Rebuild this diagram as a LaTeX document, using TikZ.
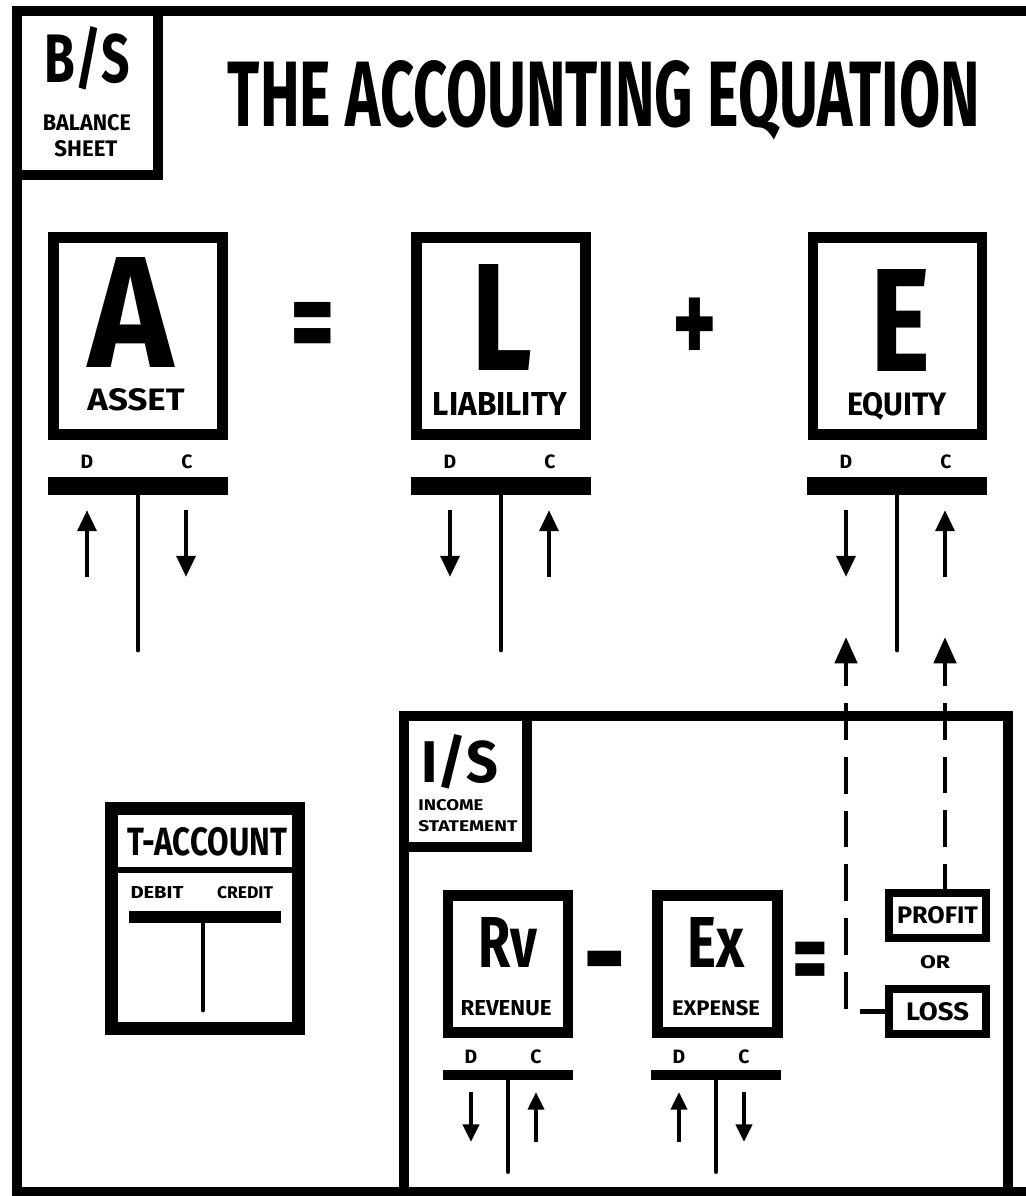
\documentclass[tikz,border=0pt]{standalone}
\usepackage{fontspec}
\setmainfont{Fira Sans}
\usepackage{graphicx}
\usetikzlibrary{arrows.meta, positioning}
\newlength\pxunit
\setlength\pxunit{0.02cm}
\newcommand{\fitbox}[3]{\resizebox{#1\pxunit}{#2\pxunit}{\bfseries #3}}

\begin{document}
\begin{tikzpicture}[x=0.02cm, y=-0.02cm,
    frame/.style={line width=5.8pt},
    bigbox/.style={draw, line width=6.2pt, minimum width=3.38cm, minimum height=3.94cm, inner sep=0pt},
    smallbox/.style={draw, line width=6.2pt, minimum width=2.4cm, minimum height=2.74cm, inner sep=0pt},
    tagbox/.style={draw, line width=4.5pt, minimum width=1.94cm, minimum height=0.9cm, inner sep=0pt},
    txt/.style={anchor=base, inner sep=0pt},
    dclabel/.style={anchor=base, inner sep=0pt, font=\bfseries\fontsize{11}{11}\selectfont},
    tbar/.style={line width=10.2pt},
    tstem/.style={line width=2.8pt, line cap=round},
    tarrow/.style={line width=2.6pt, -{Triangle[length=12pt, width=10.5pt]}},
    sbar/.style={line width=5.7pt},
    sstem/.style={line width=2.3pt, line cap=round},
    sarrow/.style={line width=2.3pt, -{Triangle[length=10pt, width=9pt]}},
    dashline/.style={line width=2.8pt, dash pattern=on 21pt off 9.6pt, dash phase=6.8pt,
        -{Triangle[length=15pt, width=12.5pt]}}]

    \useasboundingbox (0,0) rectangle (1025,1196);

    % 1. FRAMES
    \draw[frame] (17,11) rectangle (1070,1192);
    \draw[frame] (17,175) -| (158,11);
    \draw[frame] (404,716) rectangle (1008,1192);
    \draw[frame] (404,847) -| (527,716);

    \node[txt] (bstag) at (87,83) {\fitbox{85}{56}{B/S}};
    \node[txt] (bsword1) at (87,131) {\fitbox{88}{16}{BALANCE}};
    \node[txt] (bsword2) at (86,157) {\fitbox{63}{16}{SHEET}};
    \node[txt] (title) at (604,127) {\fitbox{752}{66}{THE ACCOUNTING EQUATION}};

    % 2. BALANCE SHEET EQUATION
    \node[bigbox] (asset) at (138,336) {};
    \node[bigbox] (liab) at (501,336) {};
    \node[bigbox] (equity) at (897.5,336) {};

    \node[txt] (assetA) at (131,367) {\fitbox{85}{110}{A}};
    \node[txt] (liabL) at (502,370) {\fitbox{61}{106}{L}};
    \node[txt] (equityE) at (900,371) {\fitbox{60}{102}{E}};
    \node[txt] (assetW) at (136,410) {\fitbox{97}{22}{ASSET}};
    \node[txt] (liabW) at (500,415) {\fitbox{134}{23}{LIABILITY}};
    \node[txt] (equityW) at (897,415) {\fitbox{100}{23}{EQUITY}};

    \node (equals) at (313,333) {\scalebox{1}[1.45]{\fontsize{49}{49}\selectfont\bfseries =}};
    \node (plus) at (695,331) {\scalebox{0.8}[1.15]{\fontsize{60}{60}\selectfont\bfseries +}};

    \foreach \cx/\da/\db in {138/577/510, 501/510/577, 897/510/577} {
        \draw[tbar] (\cx-90,486) -- (\cx+90,486);
        \draw[tstem] (\cx,495) -- (\cx,650);
        \node[dclabel] (dlab\cx) at (\cx-51,468) {D};
        \node[dclabel] (clab\cx) at (\cx+49,468) {C};
        \draw[tarrow] (\cx-51,\da) -- (\cx-51,\db);
        \draw[tarrow] (\cx+48,\db) -- (\cx+48,\da);
    }

    % 3. T-ACCOUNT KEY
    \node[draw, line width=7.4pt, minimum width=3.74cm, minimum height=4.4cm] (tacc) at (205,918.5) {};
    \draw[line width=3.4pt] (111,870) -- (299,870);
    \node[txt] (taccW) at (207,855) {\fitbox{160}{28}{T-ACCOUNT}};
    \node[txt] (debitW) at (157,898) {\fitbox{53}{12}{DEBIT}};
    \node[txt] (creditW) at (245,898) {\fitbox{56}{12}{CREDIT}};
    \draw[line width=6.8pt] (129,917) -- (281,917);
    \draw[tstem] (203,923) -- (203,1010);

    % 4. INCOME STATEMENT
    \node[txt] (istag) at (460,782) {\fitbox{77}{48}{I/S}};
    \node[txt, anchor=base west] (isword1) at (418,810) {\fitbox{65}{11}{INCOME}};
    \node[txt, anchor=base west] (isword2) at (418,831) {\fitbox{99}{11}{STATEMENT}};

    \node[smallbox] (rev) at (508,964) {};
    \node[smallbox] (exp) at (717.5,964) {};
    \node[txt] (revRv) at (508,967) {\fitbox{59}{50}{Rv}};
    \node[txt] (expEx) at (716,967) {\fitbox{57}{50}{Ex}};
    \node[txt] (revW) at (506,1015) {\fitbox{91}{15}{REVENUE}};
    \node[txt] (expW) at (716,1015) {\fitbox{88}{15}{EXPENSE}};

    \node (minus) at (605,975) {\scalebox{1}[1.8]{\fontsize{40}{40}\selectfont\bfseries –}};
    \node (equals2) at (810,968) {\scalebox{0.8}[1.2]{\fontsize{49}{49}\selectfont\bfseries =}};

    \foreach \cx/\da/\db in {508/1092/1142, 716/1142/1092} {
        \draw[sbar] (\cx-65,1075) -- (\cx+65,1075);
        \draw[sstem] (\cx,1080) -- (\cx,1172);
        \node[dclabel] (sdlab\cx) at (\cx-37,1063) {D};
        \node[dclabel] (sclab\cx) at (\cx+28,1063) {C};
        \draw[sarrow] (\cx-37,\da) -- (\cx-37,\db);
        \draw[sarrow] (\cx+28,\db) -- (\cx+28,\da);
    }

    % 5. PROFIT OR LOSS INTO EQUITY
    \node[tagbox] (profit) at (937.5,915.5) {\fitbox{81}{17}{PROFIT}};
    \node[txt] (orword) at (935,968) {\fitbox{30}{13}{OR}};
    \node[tagbox] (loss) at (937.5,1011.5) {\fitbox{63}{18}{LOSS}};

    \coordinate (eqD) at (846,637);
    \coordinate (eqC) at (945,637);
    \draw[dashline] (loss.west) -| (eqD);
    \draw[dashline] (profit.north -| eqC) -- (eqC);

\end{tikzpicture}
\end{document}
